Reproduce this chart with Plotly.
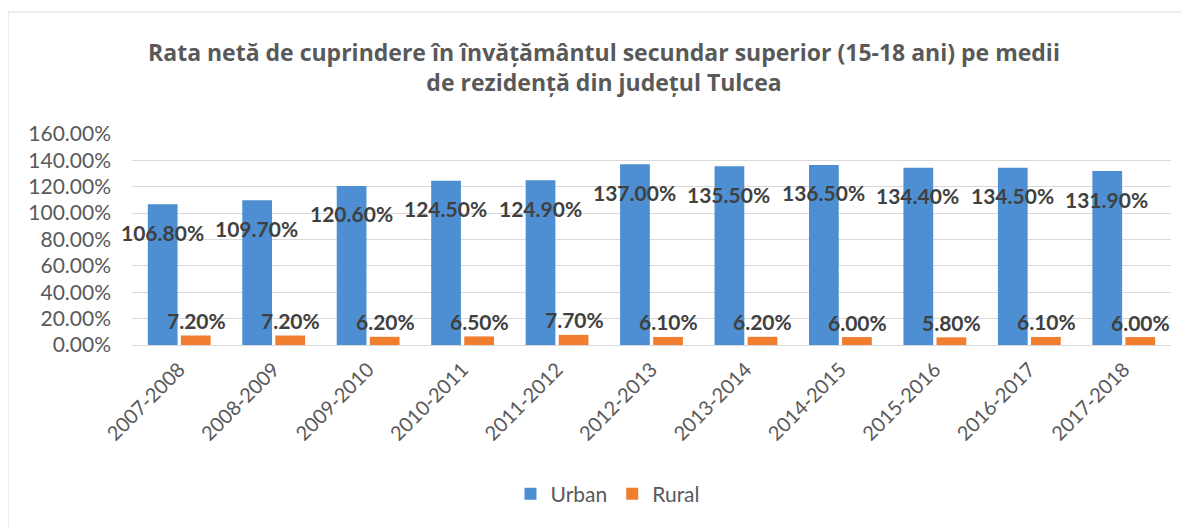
import plotly.graph_objects as go

categories = ["2007-2008", "2008-2009", "2009-2010", "2010-2011", "2011-2012", "2012-2013",
              "2013-2014", "2014-2015", "2015-2016", "2016-2017", "2017-2018"]
urban = [1.068, 1.097, 1.206, 1.245, 1.249, 1.370, 1.355, 1.365, 1.344, 1.345, 1.319]
rural = [0.072, 0.072, 0.062, 0.065, 0.077, 0.061, 0.062, 0.060, 0.058, 0.061, 0.060]
y_ticks = [0, 0.2, 0.4, 0.6, 0.8, 1.0, 1.2, 1.4, 1.6]

W, H = 1189, 527
OFF = 8  # page body offset
ML, MT = 132 - OFF, 134 - OFF
plot_right = 1171 - OFF
plot_bottom = 345 - OFF
MR = W - plot_right
MB = H - plot_bottom
pw = W - ML - MR
ph = H - MT - MB

FONT = "Lato"
LABEL_COLOR = "#404040"
TEXT_COLOR = "#595959"

fig = go.Figure()
fig.add_trace(go.Bar(
    name="Urban", x=categories, y=urban,
    marker=dict(color="#4d8fd2", line=dict(width=0)),
))
fig.add_trace(go.Bar(
    name="Rural", x=categories, y=rural,
    marker=dict(color="#f07e2e", line=dict(width=0)),
))

annotations = []
for c, v in zip(categories, urban):
    annotations.append(dict(
        x=c, y=v, xref="x", yref="y", text=f"<b>{v*100:.2f}%</b>",
        showarrow=False, xshift=-17, yshift=-28,
        font=dict(family=FONT, size=21, color=LABEL_COLOR),
    ))
for c, v in zip(categories, rural):
    annotations.append(dict(
        x=c, y=v, xref="x", yref="y", text=f"<b>{v*100:.2f}%</b>",
        showarrow=False, xshift=17, yshift=15, yanchor="middle",
        font=dict(family=FONT, size=21, color=LABEL_COLOR),
    ))


def px2x(p):
    return (p - OFF - ML) / pw


def py2y(p):
    return (H - MB - (p - OFF)) / ph


fig.update_layout(
    width=W, height=H,
    margin=dict(l=ML, r=MR, t=MT, b=MB, autoexpand=False),
    paper_bgcolor="white", plot_bgcolor="white",
    barmode="group", bargap=0.30, bargroupgap=0.1,
    title=dict(
        text="<b>Rata netă de cuprindere în învățământul secundar superior (15-18 ani) pe medii<br>de rezidență din județul Tulcea</b>",
        x=(604 - OFF) / W, xanchor="center", y=1 - (61 - OFF) / H, yanchor="middle",
        font=dict(family="Open Sans", size=23, color=TEXT_COLOR),
    ),
    xaxis=dict(
        range=[-0.5, len(categories) - 0.5], autorange=False,
        tickangle=-45, showgrid=False, showline=True, linecolor="#d9d9d9", linewidth=1,
        ticks="", ticklabelstandoff=4, tickfont=dict(family=FONT, size=20, color=TEXT_COLOR),
    ),
    yaxis=dict(
        range=[0, 1.6], autorange=False, tickvals=y_ticks, tickformat=".2%",
        showgrid=True, gridcolor="#d9d9d9", gridwidth=1, zeroline=False,
        showline=False, ticks="", ticklen=0, ticklabelstandoff=20,
        tickfont=dict(family=FONT, size=21, color=TEXT_COLOR),
    ),
    legend=dict(
        orientation="h", x=px2x(608), xanchor="center", y=py2y(494), yanchor="middle",
        font=dict(family=FONT, size=21, color=TEXT_COLOR), itemwidth=30,
        traceorder="normal",
    ),
    annotations=annotations,
    shapes=[dict(
        type="rect", xref="paper", yref="paper",
        x0=px2x(8), x1=px2x(1210), y0=py2y(560), y1=py2y(12),
        line=dict(color="#d9d9d9", width=1), fillcolor="rgba(0,0,0,0)", layer="below",
    )],
)

fig.write_html("out.html")
